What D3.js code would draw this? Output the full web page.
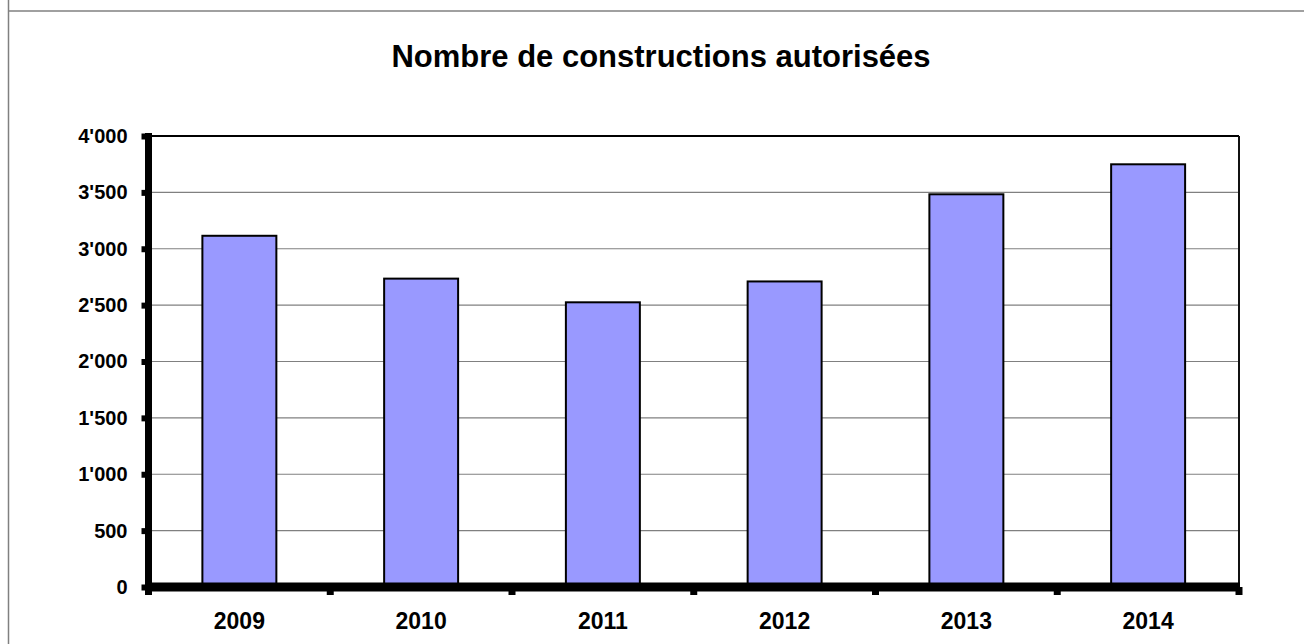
<!DOCTYPE html>
<html>
<head>
<meta charset="utf-8">
<script src="https://cdn.jsdelivr.net/npm/d3@7"></script>
<style>
  body { margin: 0; background: #fff; }
  svg { display: block; }
</style>
</head>
<body>
<div id="container"></div>
<script>
const width = 1304;
const height = 644;

const years = ["2009", "2010", "2011", "2012", "2013", "2014"];
const constructions = [3115, 2735, 2525, 2710, 3483, 3749];
const yTicks = [0, 500, 1000, 1500, 2000, 2500, 3000, 3500, 4000];
const yTickLabels = ["0", "500", "1'000", "1'500", "2'000", "2'500", "3'000", "3'500", "4'000"];

const plotLeft = 148.5;
const plotRight = 1239;
const plotTop = 136;
const plotBottom = 587;

const viz = d3.select("#container").append("svg").attr("width", width).attr("height", height);

// outer frame
viz.append("line").attr("x1", 8.5).attr("x2", 8.5).attr("y1", 0).attr("y2", height)
  .attr("stroke", "#808080").attr("stroke-width", 1.5);
viz.append("line").attr("x1", 8).attr("x2", width).attr("y1", 11).attr("y2", 11)
  .attr("stroke", "#808080").attr("stroke-width", 1.5);

viz.append("text").text("Nombre de constructions autorisées")
  .attr("x", 661).attr("y", 67)
  .attr("text-anchor", "middle")
  .attr("font-family", "Liberation Sans, Arial, sans-serif")
  .attr("font-weight", "bold")
  .attr("font-size", 31);

let xScale = d3.scaleBand().domain(years).range([plotLeft, plotRight]).paddingInner(0.593).paddingOuter(0.2965);
let yScale = d3.scaleLinear().domain([0, 4000]).range([plotBottom, plotTop]);

// gridlines
viz.append("g").selectAll("line").data(yTicks.filter(d => d > 0 && d < 4000)).enter().append("line")
  .attr("x1", plotLeft).attr("x2", plotRight)
  .attr("y1", d => yScale(d)).attr("y2", d => yScale(d))
  .attr("stroke", "#808080").attr("stroke-width", 1.2);

// plot border top / right
viz.append("line").attr("x1", plotLeft).attr("x2", plotRight).attr("y1", plotTop).attr("y2", plotTop)
  .attr("stroke", "#000").attr("stroke-width", 2);
viz.append("line").attr("x1", plotRight).attr("x2", plotRight).attr("y1", plotTop).attr("y2", plotBottom)
  .attr("stroke", "#111").attr("stroke-width", 2);

// bars
viz.append("g").selectAll("rect").data(years).enter().append("rect")
  .attr("x", d => xScale(d))
  .attr("width", xScale.bandwidth())
  .attr("y", (d, i) => yScale(constructions[i]))
  .attr("height", (d, i) => plotBottom - yScale(constructions[i]))
  .attr("fill", "#9999ff")
  .attr("stroke", "#000")
  .attr("stroke-width", 2);

// y axis
let yAxis = d3.axisLeft(yScale).tickValues(yTicks).tickSize(7).tickPadding(14)
  .tickFormat((d, i) => yTickLabels[i]);
let yAxisGroup = viz.append("g").attr("transform", "translate(" + plotLeft + ",0)").call(yAxis);
yAxisGroup.select(".domain").remove();
yAxisGroup.selectAll(".tick line").attr("stroke", "#000").attr("stroke-width", 6);
yAxisGroup.selectAll("text")
  .attr("font-family", "Liberation Sans, Arial, sans-serif")
  .attr("font-weight", "bold")
  .attr("font-size", 20)
  .attr("fill", "#000");
yAxisGroup.append("line").attr("x1", 0).attr("x2", 0).attr("y1", plotTop - 3).attr("y2", plotBottom + 4)
  .attr("stroke", "#000").attr("stroke-width", 7);

// x axis
let xAxisGroup = viz.append("g").attr("transform", "translate(0," + plotBottom + ")");
let boundaries = years.map(d => xScale(d) - xScale.step() * xScale.paddingInner() / 2);
boundaries.push(plotRight);
xAxisGroup.selectAll(".xtick").data(boundaries).enter().append("line")
  .attr("class", "xtick")
  .attr("x1", d => d).attr("x2", d => d)
  .attr("y1", 0).attr("y2", 8)
  .attr("stroke", "#000").attr("stroke-width", 7);
xAxisGroup.append("line").attr("x1", plotLeft - 3.5).attr("x2", plotRight + 1)
  .attr("y1", 0).attr("y2", 0)
  .attr("stroke", "#000").attr("stroke-width", 9);
xAxisGroup.selectAll(".xlabel").data(years).enter().append("text")
  .attr("class", "xlabel")
  .text(d => d)
  .attr("x", d => xScale(d) + xScale.bandwidth() / 2)
  .attr("y", 42)
  .attr("text-anchor", "middle")
  .attr("font-family", "Liberation Sans, Arial, sans-serif")
  .attr("font-weight", "bold")
  .attr("font-size", 23);
</script>
</body>
</html>
